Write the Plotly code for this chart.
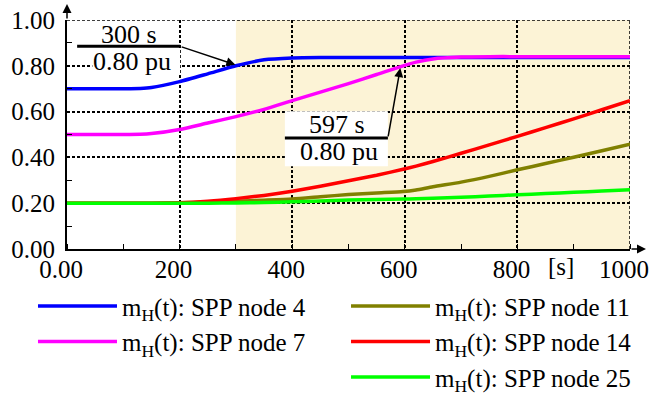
import plotly.graph_objects as go

# ---- data ----
t = [0, 50, 100, 130, 150, 200, 250, 300, 350, 400, 450, 500, 550, 597, 620, 650,
     700, 750, 800, 850, 900, 950, 1000]
node4 = [0.700, 0.700, 0.700, 0.701, 0.705, 0.731, 0.765, 0.800, 0.826, 0.834, 0.836, 0.836,
         0.836, 0.836, 0.836, 0.836, 0.836, 0.836, 0.836, 0.836, 0.836, 0.836, 0.836]
node7 = [0.500, 0.500, 0.500, 0.501, 0.504, 0.522, 0.550, 0.578, 0.610, 0.648, 0.685, 0.722,
         0.762, 0.800, 0.816, 0.830, 0.838, 0.840, 0.840, 0.840, 0.840, 0.840, 0.840]
node11 = [0.200, 0.200, 0.200, 0.200, 0.200, 0.202, 0.205, 0.209, 0.213, 0.218, 0.228, 0.238,
          0.245, 0.251, 0.258, 0.272, 0.292, 0.317, 0.346, 0.373, 0.401, 0.429, 0.458]
node14 = [0.200, 0.200, 0.200, 0.200, 0.200, 0.202, 0.209, 0.220, 0.234, 0.252, 0.274, 0.298,
          0.322, 0.348, 0.362, 0.382, 0.418, 0.455, 0.492, 0.530, 0.568, 0.608, 0.648]
node25 = [0.200, 0.200, 0.200, 0.200, 0.200, 0.200, 0.200, 0.201, 0.203, 0.206, 0.210, 0.214,
          0.216, 0.218, 0.219, 0.222, 0.226, 0.231, 0.237, 0.242, 0.248, 0.253, 0.259]

series_names = ["m<sub>H</sub>(t): SPP node 4", "m<sub>H</sub>(t): SPP node 7",
                "m<sub>H</sub>(t): SPP node 11", "m<sub>H</sub>(t): SPP node 14",
                "m<sub>H</sub>(t): SPP node 25"]
series_vals = [node4, node7, node11, node14, node25]
series_colors = ["#0000FF", "#FF00FF", "#808000", "#FF0000", "#00FF00"]
series_legend = ["legend", "legend", "legend2", "legend2", "legend2"]

x_tickvals = [0, 200, 400, 600, 800, 1000]
x_ticktext = ["0.00", "200", "400", "600", "800", "1000"]

FONT = "Liberation Serif, Times New Roman, serif"
GRID_DASH = "3px,2px"

fig = go.Figure()
for name, vals, col, lg in zip(series_names, series_vals, series_colors, series_legend):
    fig.add_trace(go.Scatter(x=t, y=vals, mode="lines", name=name,
                             line=dict(color=col, width=3.5, shape="spline", smoothing=0.6),
                             legend=lg))

# shaded region
fig.add_shape(type="rect", xref="x", yref="y", x0=300, x1=1000, y0=0, y1=1,
              fillcolor="#FCF3D6", line=dict(width=0), layer="below")
# boundary grid lines at 1.00 and 1000
fig.add_shape(type="line", xref="x", yref="y", x0=0, x1=1000, y0=1, y1=1,
              line=dict(color="black", width=1.5, dash=GRID_DASH), layer="between")
fig.add_shape(type="line", xref="x", yref="y", x0=1000, x1=1000, y0=0, y1=1,
              line=dict(color="black", width=1.5, dash=GRID_DASH), layer="between")

# callout 1
fig.add_shape(type="rect", xref="x", yref="y", x0=45, x1=201, y0=0.765, y1=0.875,
              fillcolor="white", line=dict(width=0), layer="between")
fig.add_shape(type="line", xref="x", yref="y", x0=18, x1=201, y0=0.885, y1=0.885,
              line=dict(color="black", width=3))
fig.add_annotation(x=299, y=0.805, ax=201, ay=0.885, axref="x", ayref="y", xref="x", yref="y",
                   text="", showarrow=True, arrowhead=2, arrowsize=1.2, arrowwidth=1.5,
                   arrowcolor="black", standoff=0)
fig.add_annotation(x=111, y=0.936, xref="x", yref="y", text="300 s", showarrow=False,
                   font=dict(family=FONT, size=26, color="black"))
fig.add_annotation(x=115, y=0.817, xref="x", yref="y", text="0.80 pu", showarrow=False,
                   font=dict(family=FONT, size=26, color="black"))

# callout 2
fig.add_shape(type="rect", xref="x", yref="y", x0=387, x1=570, y0=0.361, y1=0.601,
              fillcolor="white", line=dict(width=0), layer="between")
fig.add_shape(type="line", xref="x", yref="y", x0=387, x1=570, y0=0.485, y1=0.485,
              line=dict(color="black", width=3))
fig.add_annotation(x=592, y=0.79, ax=570, ay=0.485, axref="x", ayref="y", xref="x", yref="y",
                   text="", showarrow=True, arrowhead=2, arrowsize=1.2, arrowwidth=1.5,
                   arrowcolor="black", standoff=0)
fig.add_annotation(x=479, y=0.545, xref="x", yref="y", text="597 s", showarrow=False,
                   font=dict(family=FONT, size=26, color="black"))
fig.add_annotation(x=483, y=0.425, xref="x", yref="y", text="0.80 pu", showarrow=False,
                   font=dict(family=FONT, size=26, color="black"))

# axis arrows
fig.add_annotation(x=0, y=1 + 16 / 229, xref="paper", yref="paper", ax=0, ay=16, text="",
                   showarrow=True, arrowhead=2, arrowsize=1.2, arrowwidth=1.5, arrowcolor="black")
fig.add_annotation(x=1 + 16 / 563, y=0, xref="paper", yref="paper", ax=-16, ay=0, text="",
                   showarrow=True, arrowhead=2, arrowsize=1.2, arrowwidth=1.5, arrowcolor="black")

# unit label on x axis
fig.add_annotation(x=878, y=-0.078, xref="x", yref="paper", text="[s]", showarrow=False,
                   yanchor="middle", font=dict(family=FONT, size=25, color="black"))

fig.update_layout(
    width=652, height=399,
    margin=dict(l=67, r=22, t=20, b=150, autoexpand=False),
    paper_bgcolor="white", plot_bgcolor="white",
    font=dict(family=FONT, size=25, color="black"),
    showlegend=True,
    legend=dict(xref="container", yref="container", x=0.0506, y=0.29, xanchor="left",
                yanchor="top", orientation="v", bgcolor="rgba(0,0,0,0)",
                font=dict(family=FONT, size=25, color="black"), itemwidth=79, tracegroupgap=0),
    legend2=dict(xref="container", yref="container", x=0.5307, y=0.29, xanchor="left",
                 yanchor="top", orientation="v", bgcolor="rgba(0,0,0,0)",
                 font=dict(family=FONT, size=25, color="black"), itemwidth=79, tracegroupgap=0),
)
fig.update_xaxes(range=[0, 1000], tickvals=x_tickvals, ticktext=x_ticktext,
                 showgrid=True, gridcolor="black", griddash=GRID_DASH, gridwidth=1.5,
                 showline=True, linecolor="black", linewidth=2, zeroline=False,
                 ticks="", automargin=False, tickangle=0, ticklabeloverflow="allow",
                 ticklabelshift=-6, ticklabelstandoff=-3,
                 tickfont=dict(family=FONT, size=25, color="black"),
                 minor=dict(ticks="inside", dtick=100, ticklen=5, tickcolor="black",
                            showgrid=False))
fig.update_yaxes(range=[0, 1], dtick=0.2, tickformat=".2f",
                 showgrid=True, gridcolor="black", griddash=GRID_DASH, gridwidth=1.5,
                 showline=True, linecolor="black", linewidth=2, zeroline=False,
                 ticks="", automargin=False, ticklabeloverflow="allow",
                 ticklabelstandoff=5,
                 tickfont=dict(family=FONT, size=25, color="black"),
                 minor=dict(ticks="inside", dtick=0.1, ticklen=5, tickcolor="black",
                            showgrid=False))

fig.write_html("out.html")
